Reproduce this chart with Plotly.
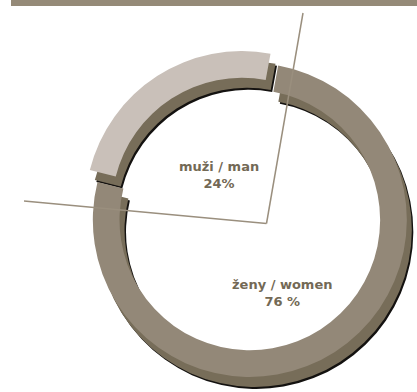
import plotly.graph_objects as go

# ---- data ----
groups = ["muži / man", "ženy / women"]
shares = [24, 76]
share_labels = ["24%", "76 %"]

# ---- styling ----
W, H = 417, 392
LIGHT = "#c9c0b9"
GRAY = "#938878"
SHADOW = "#776d59"
EDGE = "#141210"
TEXT = "#736955"
LINE = "#9a8f7e"

R = 157          # ring radius (px)
PULL = 0.045
HOLE = 0.83
CX, CY = 246, 214


def domain(cx, cy, r, pull):
    half = r * (1 + pull)
    return dict(x=[max(0, (cx - half) / W), min(1, (cx + half) / W)],
                y=[max(0, 1 - (cy + half) / H), min(1, 1 - (cy - half) / H)])


def ring(cx, cy, colors):
    return go.Pie(
        labels=groups, values=shares, sort=False, direction="clockwise",
        rotation=-76, hole=HOLE, pull=[PULL, PULL],
        marker=dict(colors=colors, line=dict(width=0)),
        textinfo="none", hoverinfo="label+percent", showlegend=False,
        domain=domain(cx, cy, R, PULL),
    )


fig = go.Figure()
fig.add_trace(ring(CX + 6.5, CY + 12, [EDGE, EDGE]))
fig.add_trace(ring(CX + 5, CY + 10, [SHADOW, SHADOW]))
fig.add_trace(ring(CX, CY, [LIGHT, GRAY]))


def px(x, y):
    return x / W, 1 - y / H


shapes = []
# top band
shapes.append(dict(type="rect", xref="paper", yref="paper",
                   x0=11 / W, x1=1, y0=1 - 6 / H, y1=1,
                   fillcolor="#958a78", line=dict(width=0), layer="above"))
for (x0, y0), (x1, y1) in [((24, 201), (266.5, 223.5)), ((303, 13), (266.5, 223.5))]:
    a, b = px(x0, y0)
    c, d = px(x1, y1)
    shapes.append(dict(type="line", xref="paper", yref="paper",
                       x0=a, y0=b, x1=c, y1=d,
                       line=dict(color=LINE, width=1.5), layer="above"))

annotations = []
for (x, y), g, s in zip([(219, 174.5), (281.5, 292.5)], groups, share_labels):
    ax, ay = px(x, y)
    annotations.append(dict(xref="paper", yref="paper", x=ax, y=ay,
                            xanchor="center", yanchor="middle",
                            text=f"<b>{g}</b><br><b>{s}</b>", showarrow=False,
                            font=dict(family="DejaVu Sans", size=13, color=TEXT),
                            align="center"))

fig.update_layout(
    width=W, height=H, margin=dict(l=0, r=0, t=0, b=0),
    paper_bgcolor="white", plot_bgcolor="white",
    shapes=shapes, annotations=annotations, showlegend=False,
)

fig.write_html("out.html")
